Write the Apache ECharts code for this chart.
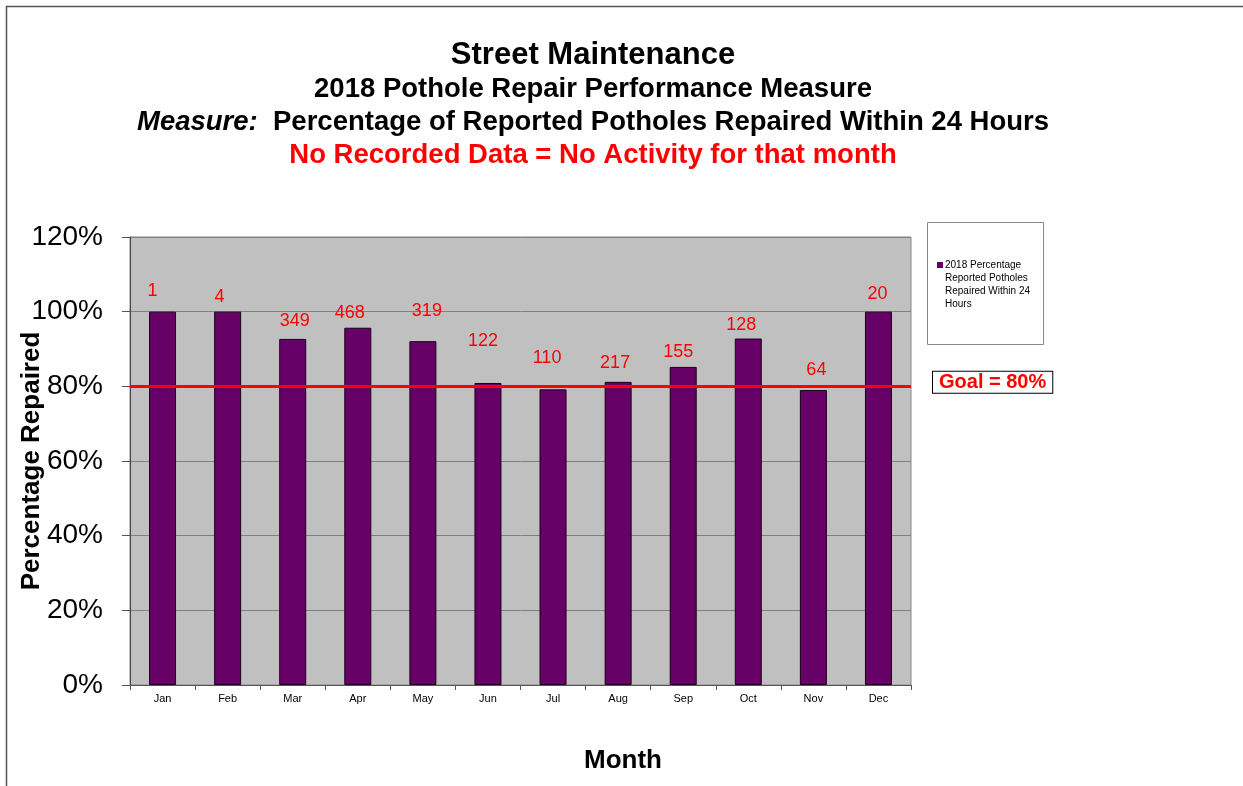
<!DOCTYPE html>
<html>
<head>
<meta charset="utf-8">
<script src="https://cdn.jsdelivr.net/npm/echarts@6/dist/echarts.min.js"></script>
<style>
  html, body { margin: 0; padding: 0; background: #fff; }
  #chart { width: 1243px; height: 786px; }
</style>
</head>
<body>
<div id="chart"></div>
<script>
// data
const months = ['Jan', 'Feb', 'Mar', 'Apr', 'May', 'Jun', 'Jul', 'Aug', 'Sep', 'Oct', 'Nov', 'Dec'];
const pctRepaired = [100, 100, 92.7, 95.7, 92.1, 80.9, 79.2, 81.2, 85.2, 92.8, 79.0, 100];
const potholeCount = [1, 4, 349, 468, 319, 122, 110, 217, 155, 128, 64, 20];
const goalPct = 80;
const yTicks = [0, 20, 40, 60, 80, 100, 120];

// label nudges (the labels were hand placed in the original)
const labelNudge = [[-10, -7], [-8, -1], [2, -4], [-8, -1], [4, -16], [-5, -28], [-6, -17], [-3, -5], [-5, -1], [-7, 0], [3, -6], [-1, -4]];

const chart = echarts.init(document.getElementById('chart'));
const font = '"Liberation Sans", Arial, sans-serif';

const option = {
    backgroundColor: '#fff',
    animation: false,
    textStyle: { fontFamily: font },
    title: [
        {
            text: 'Street Maintenance',
            left: 588, top: 35, textAlign: 'center',
            textStyle: { fontFamily: font, fontSize: 31, fontWeight: 'bold', color: '#000' }
        },
        {
            text: '2018 Pothole Repair Performance Measure',
            left: 588, top: 70, textAlign: 'center',
            textStyle: { fontFamily: font, fontSize: 27.5, fontWeight: 'bold', color: '#000' }
        },
        {
            text: '{i|Measure:}  Percentage of Reported Potholes Repaired Within 24 Hours',
            left: 588, top: 103, textAlign: 'center',
            textStyle: {
                fontFamily: font, fontSize: 27.5, fontWeight: 'bold', color: '#000',
                rich: { i: { fontFamily: font, fontSize: 27.5, fontWeight: 'bold', fontStyle: 'italic', color: '#000' } }
            }
        },
        {
            text: 'No Recorded Data = No Activity for that month',
            left: 588, top: 136, textAlign: 'center',
            textStyle: { fontFamily: font, fontSize: 27.5, fontWeight: 'bold', color: '#ff0000' }
        },
        {
            text: 'Month',
            left: 618, top: 743, textAlign: 'center',
            textStyle: { fontFamily: font, fontSize: 26, fontWeight: 'bold', color: '#000' }
        }
    ],
    graphic: [
        // outer frame of the sheet
        { type: 'rect', shape: { x: 6.5, y: 6.5, width: 1300, height: 900 }, style: { fill: 'none', stroke: '#555', lineWidth: 1.5 }, silent: true },
        // legend box
        { type: 'rect', shape: { x: 927.5, y: 222.5, width: 116, height: 122 }, style: { fill: '#fff', stroke: '#888', lineWidth: 1 }, silent: true }
    ],
    legend: {
        left: 932, top: 254,
        orient: 'vertical',
        itemWidth: 6, itemHeight: 52, itemGap: 4,
        // square sits at the top of a tall icon box so it lines up with the first text line
        icon: 'path://M0,3L6,3L6,9L0,9Z M6,0L6,0 M6,52L6,52',
        itemStyle: { borderWidth: 0 },
        textStyle: { fontFamily: font, fontSize: 10, color: '#000', lineHeight: 13, padding: [0, 0, 0, -3] },
        formatter: () => '2018 Percentage\nReported Potholes\nRepaired Within 24\nHours',
        data: ['pct']
    },
    grid: {
        left: 130, right: 332, top: 237, bottom: 101,
        outerBoundsMode: 'none',
        containLabel: false,
        show: true, backgroundColor: '#c0c0c0', borderColor: '#888', borderWidth: 1
    },
    xAxis: {
        type: 'category',
        data: months,
        axisLine: { lineStyle: { color: '#555', width: 1 } },
        axisTick: { show: true, length: 5, lineStyle: { color: '#555' } },
        axisLabel: { fontFamily: font, fontSize: 11, color: '#000', margin: 8 }
    },
    yAxis: {
        type: 'value',
        min: yTicks[0], max: yTicks[yTicks.length - 1], interval: 20,
        name: 'Percentage Repaired',
        nameLocation: 'middle',
        nameGap: 85,
        nameMoveOverlap: false,
        nameTextStyle: { fontFamily: font, fontSize: 26, fontWeight: 'bold', color: '#000' },
        axisLine: { show: true, lineStyle: { color: '#444', width: 1 } },
        axisTick: { show: true, length: 8, lineStyle: { color: '#555' } },
        axisLabel: { fontFamily: font, fontSize: 28, color: '#000', margin: 27, formatter: '{value}%' },
        splitLine: { lineStyle: { color: '#808080', width: 1 } }
    },
    series: [
        {
            name: 'pct',
            type: 'bar',
            data: pctRepaired.map((v, i) => ({
                value: v,
                label: { offset: labelNudge[i] }
            })),
            barWidth: 27,
            itemStyle: { color: '#660066', borderColor: '#1a001a', borderWidth: 1 },
            label: {
                show: true,
                position: 'top',
                distance: 5,
                fontFamily: font,
                fontSize: 18,
                color: '#ff0000',
                formatter: p => String(potholeCount[p.dataIndex])
            },
            markLine: {
                symbol: 'none',
                silent: true,
                lineStyle: { color: '#ff0000', width: 3, type: 'solid' },
                label: {
                    show: true,
                    position: 'end',
                    distance: 22,
                    offset: [0, -4],
                    formatter: 'Goal = 80%',
                    fontFamily: font,
                    fontSize: 20,
                    fontWeight: 'bold',
                    color: '#ff0000',
                    backgroundColor: '#fff',
                    borderColor: '#000',
                    borderWidth: 1,
                    padding: [1, 6, 0, 6]
                },
                data: [{ yAxis: goalPct }]
            }
        }
    ]
};

chart.setOption(option);
</script>
</body>
</html>
